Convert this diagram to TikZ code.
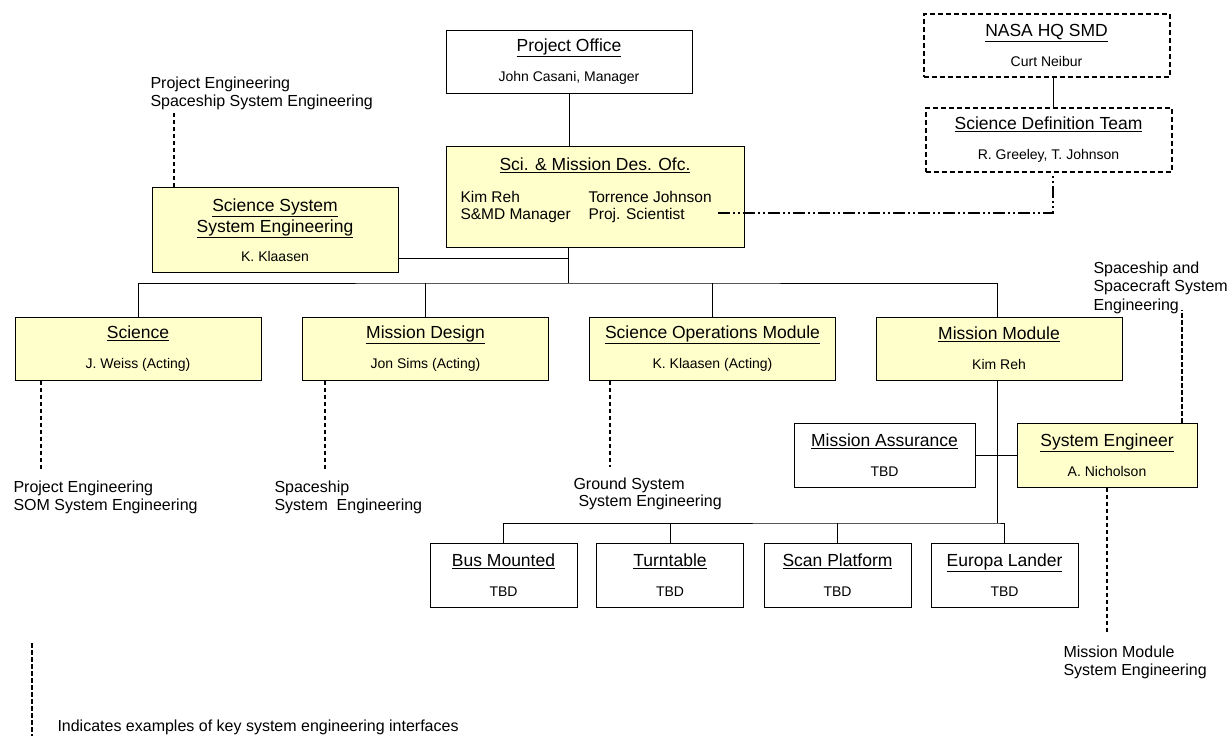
\documentclass[tikz,border=0pt]{standalone}
\usepackage{fontspec}
\setmainfont{Liberation Sans}
\usepackage{tikz}
\usetikzlibrary{positioning}
\definecolor{memo}{HTML}{FFFFCC}
\newcommand\ttlfont{\fontsize{17.5}{21}\selectfont}
\newcommand\namefont{\fontsize{14}{17}\selectfont}
\newcommand\notefont{\fontsize{16}{18.5}\selectfont}
\newcommand\ttl[1]{{\ttlfont\underline{#1}}}
\tikzset{
  unit/.style={draw, line width=1pt, minimum width=246pt, minimum height=63pt, inner sep=0pt, align=center, font=\namefont},
  hqbox/.style={unit, line width=2pt, dash pattern=on 5pt off 3pt},
  small/.style={unit, minimum width=147pt, minimum height=64pt},
  note/.style={align=left, font=\notefont, inner sep=0pt, anchor=north west},
  sei/.style={line width=2.4pt, dash pattern=on 4.5pt off 2.5pt},
  sdtlink/.style={line width=1.8pt, dash pattern=on 12pt off 3pt on 2pt off 3pt on 2pt off 3pt}
}

\begin{document}
\begin{tikzpicture}[x=1pt, y=-1pt, line width=1pt]
		\useasboundingbox (0,0) rectangle (1228,736);

		% top of the chart
		\node[unit] (po) at (569,61.5) {\ttl{Project Office}\\[13pt]John Casani, Manager};
		\node[hqbox] (hq) at (1046.5,45.5) {\ttl{NASA HQ SMD}\\[13pt]Curt Neibur};
		\node[hqbox, minimum height=64pt] (sdt) at (1048.5,140) {\ttl{Science Definition Team}\\[13pt]R. Greeley, T. Johnson};
		\node[unit, fill=memo, minimum width=298pt, minimum height=101pt] (smd) at (595,196.5) {};
		\node[inner sep=0pt, font=\ttlfont] (smdttl) at (595,165) {\underline{Sci. \& Mission Des. Ofc.}};
		\node[inner sep=0pt, align=left, anchor=west, font=\fontsize{15.5}{17}\selectfont] (kr) at (460,206.5) {Kim Reh\\S\&MD Manager};
		\node[inner sep=0pt, align=left, anchor=west, font=\fontsize{15.5}{17}\selectfont] (tj) at (588,206.5) {Torrence Johnson\\Proj. Scientist};
		\node[unit, fill=memo, minimum height=85pt] (sse) at (275,230) {\ttl{Science System}\\[2pt]\ttl{System Engineering}\\[12pt]K. Klaasen};

		% second row
		\node[unit, fill=memo] (sci) at (138,348.5) {\ttl{Science}\\[13pt]J. Weiss (Acting)};
		\node[unit, fill=memo] (md) at (425.5,348.5) {\ttl{Mission Design}\\[13pt]Jon Sims (Acting)};
		\node[unit, fill=memo] (som) at (712.5,348.5) {\ttl{Science Operations Module}\\[13pt]K. Klaasen (Acting)};
		\node[unit, fill=memo] (mm) at (999,348.5) {\ttl{Mission Module}\\[13pt]Kim Reh};

		% mission module staff
		\node[unit, minimum width=181pt, minimum height=64pt] (ma) at (884.5,455) {\ttl{Mission Assurance}\\[13pt]TBD};
		\node[unit, fill=memo, minimum width=180pt, minimum height=64pt] (se) at (1107,455) {\ttl{System Engineer}\\[13pt]A. Nicholson};

		% bottom row
		\node[small] (bus) at (503.5,575) {\ttl{Bus Mounted}\\[13pt]TBD};
		\node[small] (tt) at (670,575) {\ttl{Turntable}\\[13pt]TBD};
		\node[small] (sp) at (837.5,575) {\ttl{Scan Platform}\\[13pt]TBD};
		\node[small] (el) at (1004.5,575) {\ttl{Europa Lander}\\[13pt]TBD};

		% reporting lines
		\coordinate (bar) at (568,283);
		\coordinate (lowbar) at (997,523);
		\draw (po.south) -- (po.south |- smd.north);
		\draw (smd.south -| bar) -- (bar);
		\draw (sci.north) |- (bar) -| ([xshift=-2pt]mm.north);
		\draw (md.north) -- (md.north |- bar);
		\draw (som.north) -- (som.north |- bar);
		\draw ([yshift=-28.5pt]sse.east) -- ([yshift=-28.5pt]sse.east -| bar);
		\draw ([xshift=6.5pt]hq.south) -- ([xshift=4.5pt]sdt.north);
		\draw ([xshift=-2pt]mm.south) -- (lowbar);
		\draw (ma.east) -- (se.west);
		\draw (bus.north) |- (lowbar) -| (el.north);
		\draw (tt.north) -- (tt.north |- lowbar);
		\draw (sp.north) -- (sp.north |- lowbar);
		\draw[sdtlink] ([yshift=-6.5pt, xshift=6pt]tj.east) -| ([xshift=4.5pt]sdt.south);

		% system engineering interfaces
		\node[note] (lblsse) at (150,76) {Project Engineering\\Spaceship System Engineering};
		\node[note] (lblsci) at (13,480) {Project Engineering\\SOM System Engineering};
		\node[note] (lblmd) at (274,480) {Spaceship\\System\ \ Engineering};
		\node[note, font=\fontsize{16}{17}\selectfont] (lblsom) at (573,477) {Ground System\\\hspace*{5pt}System Engineering};
		\node[note] (lblsetop) at (1093,261) {Spaceship and\\Spacecraft System\\Engineering};
		\node[note] (lblsebot) at (1063,645) {Mission Module\\System Engineering};
		\coordinate (sseEnd) at (174,113);
		\coordinate (sciEnd) at (41,470);
		\coordinate (mdEnd) at (325,470);
		\coordinate (somEnd) at (610,467);
		\coordinate (setopEnd) at (1182,310);
		\coordinate (sebotEnd) at (1107,633);
		\draw[sei] (sse.north -| sseEnd) -- (sseEnd);
		\draw[sei] (sci.south -| sciEnd) -- (sciEnd);
		\draw[sei] (md.south -| mdEnd) -- (mdEnd);
		\draw[sei] (som.south -| somEnd) -- (somEnd);
		\draw[sei] (se.north -| setopEnd) -- (setopEnd);
		\draw[sei] (se.south -| sebotEnd) -- (sebotEnd);

		% legend
		\coordinate (legTop) at (32,643);
		\coordinate (legBot) at (32,736);
		\draw[sei] (legTop) -- (legBot);
		\node[inner sep=0pt, anchor=west, font=\notefont] (legend) at (57,727) {Indicates examples of key system engineering interfaces};

\end{tikzpicture}
\end{document}
